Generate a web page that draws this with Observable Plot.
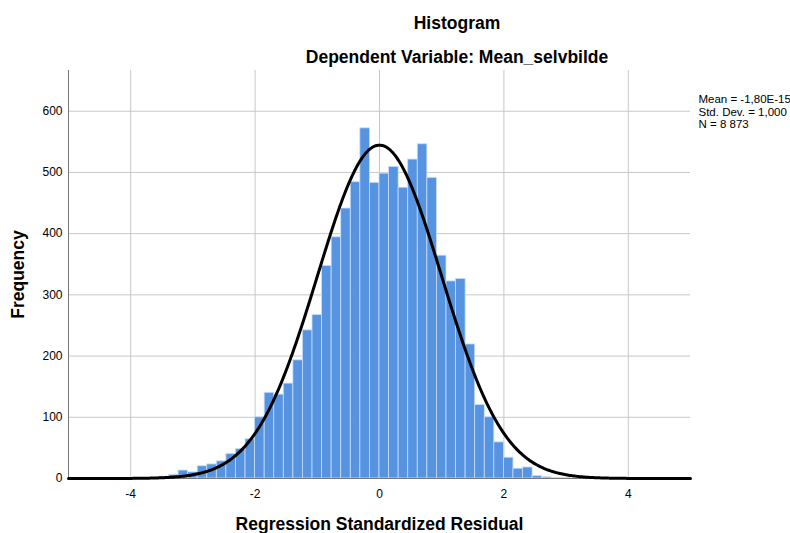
<!DOCTYPE html>
<html><head><meta charset="utf-8">
<script src="https://cdn.jsdelivr.net/npm/d3@7"></script>
<script src="https://cdn.jsdelivr.net/npm/@observablehq/plot@0.6"></script>
<style>
body{margin:0;background:#fff;font-family:"Liberation Sans",Arial,sans-serif;}
#wrap{position:relative;width:790px;height:533px;overflow:hidden;background:#fff;}
#head{position:relative;height:62px;}
.t{position:absolute;left:0;width:914px;text-align:center;font-weight:bold;font-size:17.5px;line-height:20px;color:#000;white-space:nowrap;}
</style></head><body>
<div id="wrap">
  <div id="head">
    <div class="t" style="top:13px">Histogram</div>
    <div class="t" style="top:47px">Dependent Variable: Mean_selvbilde</div>
  </div>
  <div id="chart"></div>
</div>
<script>
// bin width: 13 bins per 2 units
const binWidth = 2 / 13;
const firstBin = -24;   // index of first bin (lower edge = firstBin * binWidth)
const counts = [1, 3, 6, 13, 10, 20, 23, 28, 40, 48, 64, 100,
  140, 137, 155, 193, 242, 267, 347, 394, 441, 484, 572, 483,
  498, 509, 475, 521, 546, 491, 364, 322, 326, 219, 120, 100,
  59, 34, 16, 18, 4, 2, 1, 1];
const xTicks = [-4, -2, 0, 2, 4];
const yTicks = [0, 100, 200, 300, 400, 500, 600];
const statMean = -1.80e-15, statSD = 1.000, statN = 8873;
const legendLines = ["Mean = -1,80E-15", "Std. Dev. = 1,000", "N = 8 873"];
const titleX = "Regression Standardized Residual";
const titleY = "Frequency";

const bins = counts.map((c, i) => ({
  x1: (firstBin + i) * binWidth,
  x2: (firstBin + i + 1) * binWidth,
  count: c
}));
// fitted normal curve from stated mean, SD and N
const curve = d3.range(-5, 5.0001, 0.02).map(x => ({
  x,
  y: statN * binWidth / (statSD * Math.sqrt(2 * Math.PI)) * Math.exp(-0.5 * ((x - statMean) / statSD) ** 2)
}));

const chart = Plot.plot({
  width: 790,
  height: 471,
  marginLeft: 68,
  marginRight: 100,
  marginTop: 8,
  marginBottom: 55,
  x: {domain: [-5, 5]},
  y: {domain: [0, 666.5]},
  style: {fontFamily: "'Liberation Sans', Arial, sans-serif", fontSize: "12px", color: "#000", background: "#fff", overflow: "hidden"},
  marks: [
    Plot.gridY(yTicks.slice(1), {stroke: "#c8c8c8", strokeOpacity: 1}),
    Plot.gridX(xTicks, {stroke: "#c8c8c8", strokeOpacity: 1}),
    Plot.rectY(bins, {x1: "x1", x2: "x2", y: "count", fill: "#5694e2", stroke: "#c9ddf7", strokeWidth: 0.8}),
    Plot.axisY(yTicks, {tickSize: 0, tickPadding: 6, label: null, fontSize: 12, tickFormat: d => String(d)}),
    Plot.axisX(xTicks, {tickSize: 0, tickPadding: 11, label: null, fontSize: 12, tickFormat: d => String(d)}),
    Plot.ruleX([-5], {stroke: "#777"}),
    Plot.ruleY([0], {stroke: "#777"}),
    Plot.line(curve, {x: "x", y: "y", stroke: "#000", strokeWidth: 3}),
    Plot.text([titleY], {frameAnchor: "left", dx: -50, rotate: -90, textAnchor: "middle", lineAnchor: "middle", fontWeight: "bold", fontSize: 17.5}),
    Plot.text([titleX], {frameAnchor: "bottom", dy: 46, lineAnchor: "middle", fontWeight: "bold", fontSize: 17.5}),
    Plot.text([legendLines.join("\n")], {frameAnchor: "top-right", dx: 8, dy: 24, textAnchor: "start", lineAnchor: "top", lineHeight: 1.08, fontSize: 11.5})
  ]
});
document.getElementById("chart").appendChild(chart);
</script>
</body></html>
